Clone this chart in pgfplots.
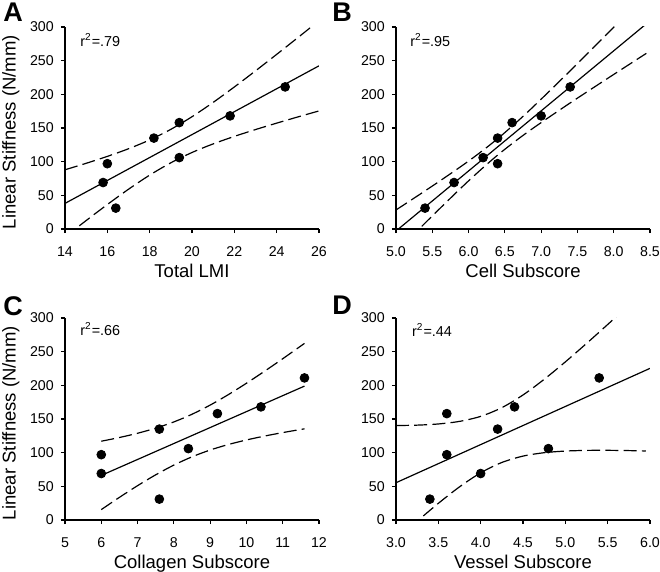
\documentclass[border=0pt]{standalone}
\usepackage{fontspec}
\setmainfont{Liberation Sans}
\usepackage{pgfplots}
\pgfplotsset{compat=1.18}
\begin{document}
\begin{tikzpicture}
\path[use as bounding box] (0,0) rectangle (330pt,286pt);
\tikzset{rlab/.style={anchor=west, inner sep=0pt, font=\fontsize{7.2}{8}\selectfont}}
\pgfplotsset{
 panel/.style={
  scale only axis, width=127pt, height=101pt,
  anchor=south west,
  axis x line=bottom, axis y line=left,
  axis line style={-, line width=0.55pt, black},
  tick align=outside, major tick length=2.1pt,
  tick style={line width=0.55pt, black},
  enlargelimits=false,
  ymin=0, ymax=300, ytick={0,50,...,300},
  /pgf/number format/assume math mode=true,
  tick label style={font=\fontsize{7.1}{8}\selectfont},
  xticklabel shift=3pt,
  label style={font=\fontsize{9.25}{11}\selectfont},
  xlabel style={at={(axis description cs:0.5,-0.2426)}, anchor=base},
  ylabel style={at={(axis description cs:-0.213,0.48)}, anchor=center},
  clip=true,
 },
 ci/.style={black, line width=0.6pt, dash pattern=on 6.5pt off 2.6pt, smooth},
 fit/.style={black, line width=0.6pt},
 pts/.style={only marks, mark=*, mark size=2.2pt, black, mark options={fill=black}},
}
% Panel A
\begin{axis}[panel, at={(32.5pt,171.5pt)}, xmin=14, xmax=26, xtick={14,16,...,26},
  xlabel={Total LMI}, ylabel={Linear Stiffness (N/mm)}]
\addplot[ci] coordinates {(14,87.94) (15,97.56) (16,107.83) (17,119.16) (18,132.27) (19,148.0) (20,166.76) (21,188.02) (22,210.94) (23,234.84) (24,259.33) (25,284.19) (26,309.29)};
\addplot[ci] coordinates {(14,-11.88) (15,12.54) (16,36.33) (17,59.04) (18,79.99) (19,98.30) (20,113.60) (21,126.38) (22,137.52) (23,147.66) (24,157.21) (25,166.41) (26,175.35)};
\addplot[fit] coordinates {(14,38.03) (26,242.32)};
\addplot[pts] coordinates {(15.8,69) (16.0,97) (16.4,31) (18.2,135) (19.4,158) (19.4,106) (21.8,168) (24.4,211)};
\node[rlab] at (rel axis cs:0.059,0.936) {r\textsuperscript{2}=.79};
\end{axis}
% Panel B
\begin{axis}[panel, at={(198pt,171.5pt)}, xmin=5, xmax=8.5, xtick={5,5.5,...,8.5},
  xticklabel style={/pgf/number format/.cd, fixed, fixed zerofill, precision=1},
  xlabel={Cell Subscore}]
\addplot[ci] coordinates {(5.0,28.24) (5.5,63.74) (6.0,100.88) (6.4,134.05) (6.8,172.25) (7.3,224.33) (7.8,278.03) (8.3,332.3)};
\addplot[ci] coordinates {(5.0,-34.3) (5.5,19.42) (6.0,71.50) (6.4,109.71) (6.8,142.87) (7.3,180.01) (7.8,215.51) (8.3,250.45) (8.45,260.87)};
\addplot[fit] coordinates {(5.0,-3.02) (8.45,304.76)};
\addplot[pts] coordinates {(5.4,31) (5.8,69) (6.2,106) (6.4,97) (6.4,135) (6.6,158) (7.0,168) (7.4,211)};
\node[rlab] at (rel axis cs:0.055,0.936) {r\textsuperscript{2}=.95};
\end{axis}
% Panel C
\begin{axis}[panel, at={(32.5pt,26pt)}, xmin=5, xmax=12, xtick={5,6,...,12},
  xlabel={Collagen Subscore}, ylabel={Linear Stiffness (N/mm)}]
\addplot[ci] coordinates {(6,116.98) (6.5,122.50) (7,128.83) (7.5,136.38) (8,145.64) (8.5,157.03) (9,170.64) (9.5,186.15) (10,203.08) (10.5,220.96) (11,239.48) (11.6,262.28)};
\addplot[ci] coordinates {(6,15.44) (6.5,33.62) (7,50.97) (7.5,67.10) (8,81.53) (8.5,93.83) (9,103.90) (9.5,112.07) (10,118.84) (10.5,124.64) (11,129.80) (11.6,135.42)};
\addplot[fit] coordinates {(6,66.21) (11.6,198.85)};
\addplot[pts] coordinates {(6.0,97) (6.0,69) (7.6,135) (7.6,31) (8.4,106) (9.2,158) (10.4,168) (11.6,211)};
\node[rlab] at (rel axis cs:0.059,0.943) {r\textsuperscript{2}=.66};
\end{axis}
% Panel D
\begin{axis}[panel, at={(198pt,26pt)}, xmin=3, xmax=6, xtick={3,3.5,...,6},
  xticklabel style={/pgf/number format/.cd, fixed, fixed zerofill, precision=1},
  xlabel={Vessel Subscore}]
\addplot[ci] coordinates {(3,140.29) (3.25,140.87) (3.5,142.62) (3.75,146.44) (4,153.90) (4.25,166.83) (4.5,185.67) (4.75,208.93) (5,234.80) (5.25,262.14) (5.5,290.32) (5.75,319.02) (6,348.06)};
\addplot[ci] coordinates {(3,-29.59) (3.25,-1.85) (3.5,24.70) (3.75,49.18) (4,70.04) (4.25,85.41) (4.5,94.87) (4.75,99.93) (5,102.36) (5.25,103.34) (5.5,103.46) (5.75,103.06) (5.95,102.5)};
\addplot[fit] coordinates {(3,55.35) (6,225.20)};
\addplot[pts] coordinates {(3.4,31) (3.6,158) (3.6,97) (4.0,69) (4.2,135) (4.4,168) (4.8,106) (5.4,211)};
\node[rlab] at (rel axis cs:0.062,0.943) {r\textsuperscript{2}=.44};
\end{axis}
\node[anchor=north west, inner sep=0pt, font=\bfseries\fontsize{13.5}{15}\selectfont] at (1.5pt,284.5pt) {A};
\node[anchor=north west, inner sep=0pt, font=\bfseries\fontsize{13.5}{15}\selectfont] at (166pt,284.5pt) {B};
\node[anchor=north west, inner sep=0pt, font=\bfseries\fontsize{13.5}{15}\selectfont] at (1.5pt,138pt) {C};
\node[anchor=north west, inner sep=0pt, font=\bfseries\fontsize{13.5}{15}\selectfont] at (166pt,138pt) {D};
\end{tikzpicture}
\end{document}
